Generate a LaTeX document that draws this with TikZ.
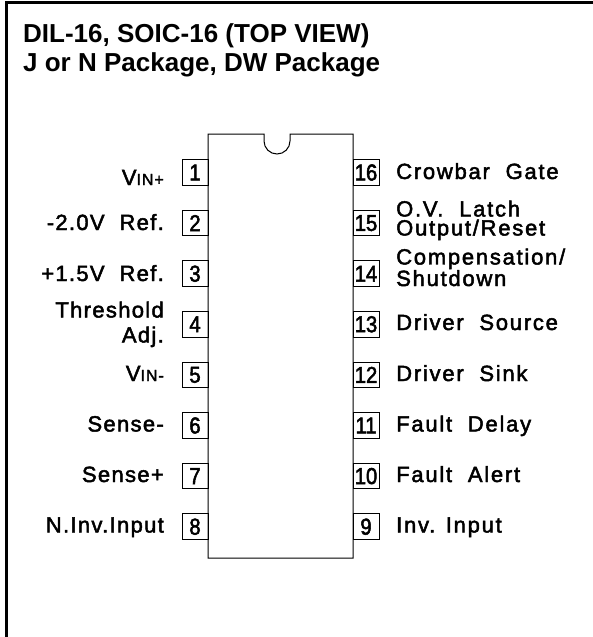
\documentclass[tikz,border=0pt]{standalone}
\usepackage{fontspec}
\setmainfont{Liberation Sans}
\newfontfamily\pinfont[FakeBold=2.2,LetterSpace=6]{Liberation Sans}
\newfontfamily\sidefont[FakeBold=2.2,LetterSpace=8]{Liberation Sans}
\newfontfamily\numfont[FakeBold=2.2,FakeStretch=0.88]{Liberation Sans}

\tikzset{
    pinbox/.style={draw,line width=1pt,minimum width=26pt,minimum height=25.5pt,inner sep=0pt,font=\numfont\fontsize{23}{23}\selectfont},
    pinleft/.style={anchor=base east,inner sep=0pt,align=right,font=\pinfont\fontsize{22}{25}\selectfont},
    pinright/.style={anchor=base west,inner sep=0pt,align=left,font=\sidefont\fontsize{22}{19}\selectfont},
    headline/.style={anchor=base west,inner sep=0pt,font=\bfseries\fontsize{26}{26}\selectfont}
}

\begin{document}
\begin{tikzpicture}[x=1pt,y=-1pt]
    \useasboundingbox (0,0) rectangle (593,637);

    % frame
    \draw [line width=3pt] (6.5,637)--(6.5,2)--(593,2);

    \node [headline] (titleone) at (23,42.5) {DIL-16, SOIC-16 (TOP VIEW)};
    \node [headline] (titletwo) at (23,71.5) {J or N Package, DW Package};

    % chip body with notch
    \draw [line width=1pt] (208,134)--(264,134)--(264,141) arc (180:0:13)--(290,134)--(353,134)--(353,558)--(208,558)--cycle;

    % pins
    \foreach \n in {1,...,8} {
        \pgfmathsetmacro{\ypin}{172.5+50.6*(\n-1)}
        \node [pinbox] (pin\n) at (195,\ypin) {\n};
    }
    \foreach \n in {9,...,16} {
        \pgfmathsetmacro{\ypin}{172.5+50.6*(16-\n)}
        \node [pinbox] (pin\n) at (366,\ypin) {\n};
    }

    % left labels
    \node [pinleft] (vinp) at (164,185) {V{\fontsize{16}{16}\selectfont IN+}};
    \node [pinleft] (refneg) at (164,230) {-2.0V \ Ref.};
    \node [pinleft] (refpos) at (164,281) {+1.5V \ Ref.};
    \node [pinleft] (thresh) at (164,342.5) {Threshold\\Adj.};
    \node [pinleft] (vinn) at (164,381) {V{\fontsize{16}{16}\selectfont IN-}};
    \node [pinleft] (senseneg) at (164,431.5) {Sense-};
    \node [pinleft] (sensepos) at (164,482) {Sense+};
    \node [pinleft] (ninv) at (164,532.5) {N.Inv.Input};

    % right labels
    \node [pinright] (gate) at (396,179) {Crowbar \ Gate};
    \node [pinright] (latch) at (396,235.5) {O.V. \ Latch\\Output/Reset};
    \node [pinright] (comp) at (396,286) {Compensation/\\Shutdown};
    \node [pinright] (source) at (396,330) {Driver \ Source};
    \node [pinright] (sink) at (396,381) {Driver \ Sink};
    \node [pinright] (delay) at (396,431.5) {Fault \ Delay};
    \node [pinright] (alert) at (396,482) {Fault \ Alert};
    \node [pinright] (invin) at (396,532.5) {Inv. Input};
\end{tikzpicture}
\end{document}
